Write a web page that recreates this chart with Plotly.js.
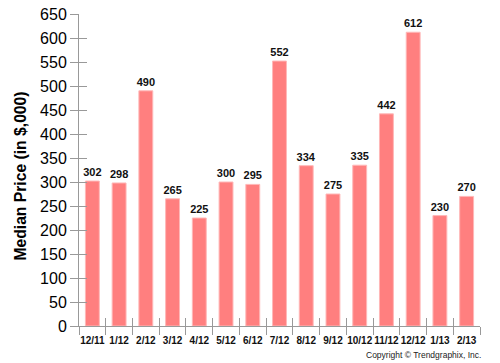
<!DOCTYPE html>
<html>
<head>
<meta charset="utf-8">
<script src="https://cdn.plot.ly/plotly-3.0.1.min.js"></script>
<style>html,body{margin:0;padding:0;background:#fff;}#chart{width:500px;height:363px;}</style>
</head>
<body>
<div id="chart"></div>
<script>
const months = ["12/11","1/12","2/12","3/12","4/12","5/12","6/12","7/12","8/12","9/12","10/12","11/12","12/12","1/13","2/13"];
const medianPrice = [302,298,490,265,225,300,295,552,334,275,335,442,612,230,270];
const yTickVals = [0,50,100,150,200,250,300,350,400,450,500,550,600,650];
const yTitle = "Median Price (in $,000)";
const copyright = "Copyright © Trendgraphix, Inc.";

const FONT = "Arial, 'Liberation Sans', sans-serif";
const AXIS_GRAY = "#999999";

const traces = [
  {
    type: "bar",
    x: months,
    y: medianPrice,
    text: medianPrice.map(String),
    textposition: "outside",
    cliponaxis: false,
    constraintext: "none",
    textfont: {family: FONT, size: 11, color: "#111", weight: "bold"},
    marker: {color: "#FF7F7F", line: {color: "#FFB8B8", width: 1}},
    hoverinfo: "skip"
  },
  {
    type: "scatter",
    mode: "none",
    x: months,
    y: medianPrice,
    xaxis: "x2",
    yaxis: "y2",
    showlegend: false,
    hoverinfo: "skip"
  }
];

const layout = {
  width: 500,
  height: 363,
  margin: {l: 79, r: 20, t: 14, b: 37, pad: 0},
  paper_bgcolor: "#fff",
  plot_bgcolor: "#fff",
  showlegend: false,
  bargap: 0.48,
  font: {family: FONT, color: "#000"},
  xaxis: {
    type: "category",
    tickson: "boundaries",
    tickangle: 0,
    ticks: "outside",
    ticklen: 8,
    tickcolor: AXIS_GRAY,
    tickwidth: 1,
    ticklabelstandoff: 5,
    showline: true,
    linecolor: AXIS_GRAY,
    linewidth: 1,
    showgrid: false,
    zeroline: false,
    tickfont: {family: FONT, size: 10, color: "#111", weight: "bold"},
    fixedrange: true
  },
  xaxis2: {
    overlaying: "x",
    matches: "x",
    anchor: "y2",
    side: "bottom",
    type: "category",
    tickson: "boundaries",
    tickangle: 0,
    ticks: "inside",
    ticklen: 8,
    tickcolor: AXIS_GRAY,
    tickwidth: 1,
    showticklabels: false,
    showline: false,
    showgrid: false,
    zeroline: false
  },
  yaxis: {
    range: [0, 650],
    tickvals: yTickVals,
    ticks: "outside",
    ticklen: 8,
    tickcolor: AXIS_GRAY,
    tickwidth: 1,
    showline: true,
    linecolor: AXIS_GRAY,
    linewidth: 1,
    showgrid: false,
    zeroline: false,
    tickfont: {family: FONT, size: 16, color: "#000"},
    fixedrange: true
  },
  yaxis2: {
    overlaying: "y",
    matches: "y",
    anchor: "x2",
    side: "left",
    tickvals: yTickVals,
    ticks: "inside",
    ticklen: 8,
    tickcolor: AXIS_GRAY,
    tickwidth: 1,
    showticklabels: false,
    showline: false,
    showgrid: false,
    zeroline: false
  },
  annotations: [
    {
      text: yTitle,
      xref: "paper", yref: "paper",
      x: -0.147, y: 0.479,
      xanchor: "center", yanchor: "middle",
      textangle: -90,
      showarrow: false,
      font: {family: FONT, size: 15.7, color: "#000", weight: "bold"}
    },
    {
      text: copyright,
      xref: "paper", yref: "paper",
      x: 1.0075, y: -0.093,
      xanchor: "right", yanchor: "middle",
      showarrow: false,
      font: {family: FONT, size: 8.5, color: "#222"}
    }
  ]
};

Plotly.newPlot("chart", traces, layout, {displayModeBar: false, staticPlot: true});
</script>
</body>
</html>
